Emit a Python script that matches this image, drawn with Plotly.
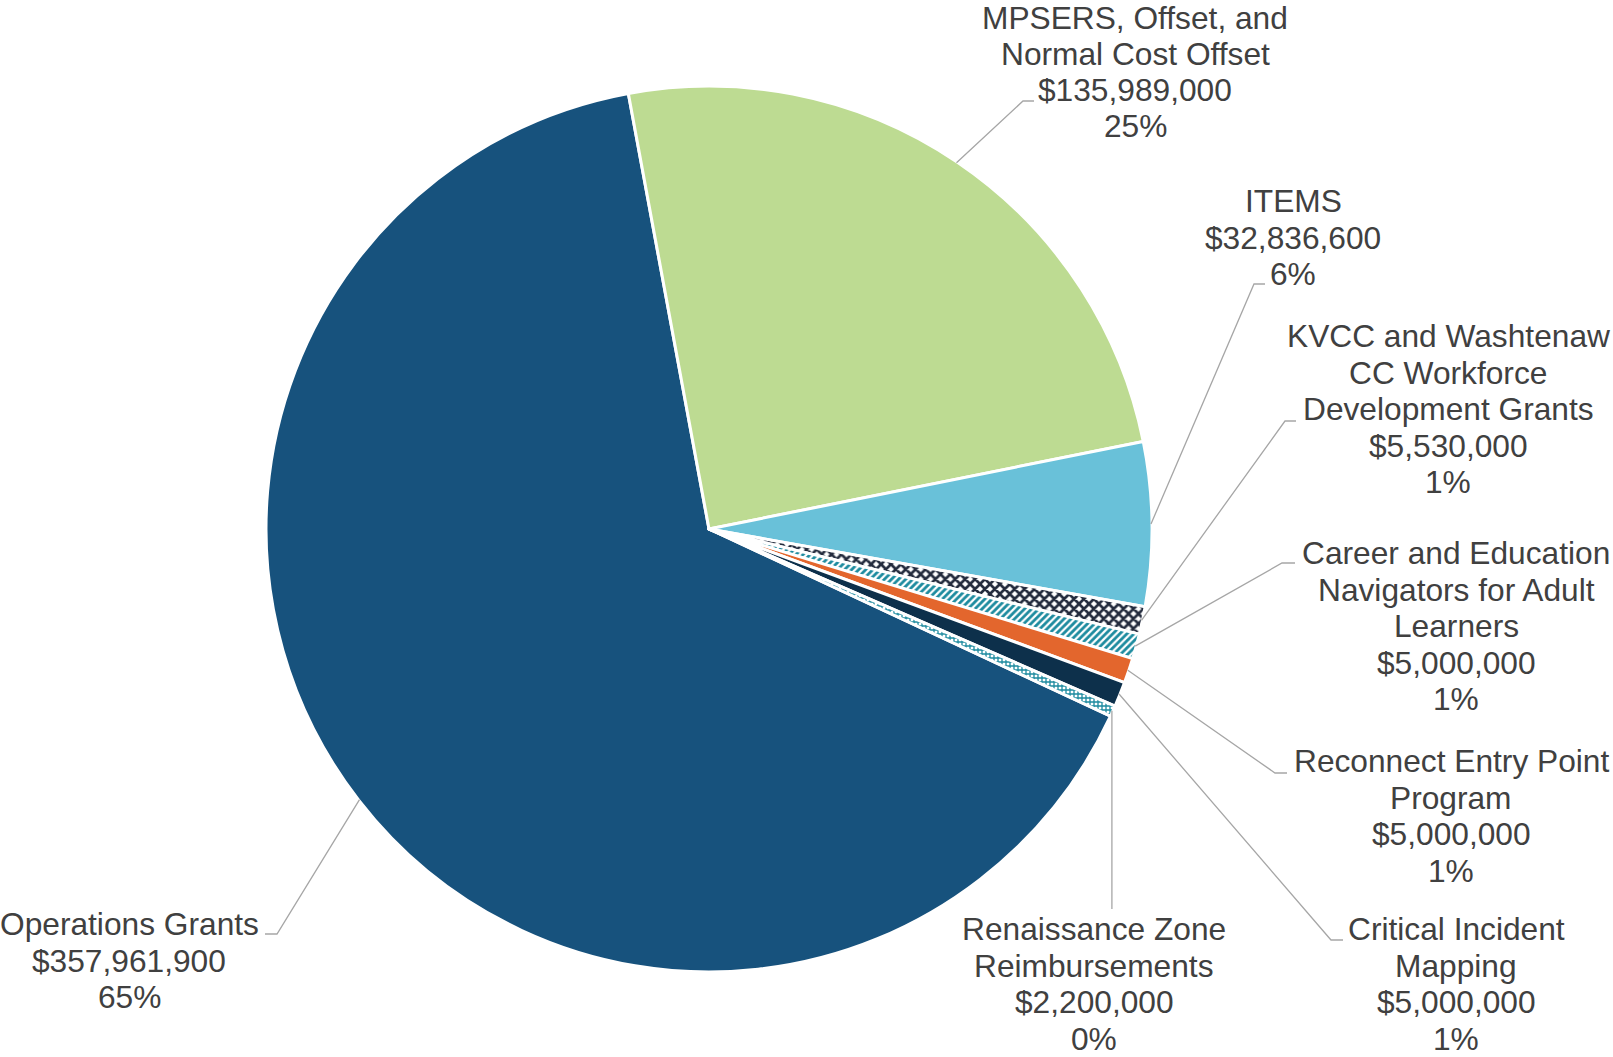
import math
import plotly.graph_objects as go

# ---------------- data ----------------
categories = [
    "Operations Grants",
    "MPSERS, Offset, and Normal Cost Offset",
    "ITEMS",
    "KVCC and Washtenaw CC Workforce Development Grants",
    "Career and Education Navigators for Adult Learners",
    "Reconnect Entry Point Program",
    "Critical Incident Mapping",
    "Renaissance Zone Reimbursements",
]
amounts = [357961900, 135989000, 32836600, 5530000, 5000000, 5000000, 5000000, 2200000]
label_wrap = [
    ["Operations Grants"],
    ["MPSERS, Offset, and", "Normal Cost Offset"],
    ["ITEMS"],
    ["KVCC and Washtenaw", "CC Workforce", "Development Grants"],
    ["Career and Education", "Navigators for Adult", "Learners"],
    ["Reconnect Entry Point", "Program"],
    ["Critical Incident", "Mapping"],
    ["Renaissance Zone", "Reimbursements"],
]

# ---------------- styles / layout ----------------
W, H = 1613, 1057
CX, CY, R = 709, 529, 443    # page pixel coords
ROT = 115.0
FONT = "Liberation Sans, Arial, sans-serif"
FS = 31.7
PITCH = 36.6
TXT = "#404040"
LEAD = "#a6a6a6"

colors = ["#17527d", "#bddb92", "#69c1d9", "#ffffff", "#ffffff", "#e3662d", "#0d304b", "#ffffff"]
pat_shape = ["", "", "", "x", "/", "", "", "+"]
pat_fg = ["#17527d", "#bddb92", "#69c1d9", "#232b3d", "#1d8b9f", "#e3662d", "#0d304b", "#1d8b9f"]
pat_bg = ["#17527d", "#bddb92", "#69c1d9", "#ffffff", "#ffffff", "#e3662d", "#0d304b", "#ffffff"]
pat_size = [8, 8, 8, 7, 5, 8, 8, 4]
pat_sol = [0.3, 0.3, 0.3, 0.62, 0.55, 0.3, 0.3, 0.55]

label_cx = [129, 1135, 1293, 1448, 1456, 1451, 1456, 1094]
label_base = [935, 29, 212, 347, 564, 772, 940, 940]
label_pitch = [PITCH, 36.0, PITCH, PITCH, PITCH, PITCH, PITCH, PITCH]
# leader line bend points (pixels); None = straight vertical drop
leader_pts = [
    [(277, 934), (265, 934)],
    [(1023, 101), (1034, 101)],
    [(1254, 284), (1265, 284)],
    [(1285, 421), (1296, 421)],
    [(1282, 563), (1295, 563)],
    [(1275, 773), (1287, 773)],
    [(1331, 940), (1343, 940)],
    None,
]
RENAI_DROP_Y = 909

px = lambda x: x / W
py = lambda y: 1 - y / H

fig = go.Figure()
fig.add_trace(go.Pie(
    labels=categories,
    values=amounts,
    sort=False,
    direction="clockwise",
    rotation=ROT,
    textinfo="none",
    hoverinfo="label+value+percent",
    showlegend=False,
    marker=dict(
        colors=colors,
        line=dict(color="#ffffff", width=3),
        pattern=dict(shape=pat_shape, fgcolor=pat_fg, bgcolor=pat_bg,
                     size=pat_size, solidity=pat_sol, fillmode="replace"),
    ),
    domain=dict(x=[px(CX - R), px(CX + R)],
                y=[py(CY + R), py(CY - R)]),
))

total = sum(amounts)
annotations = []
shapes = []
cum = 0.0
for i, v in enumerate(amounts):
    a0 = ROT + 360 * cum / total
    cum += v
    a1 = ROT + 360 * cum / total
    mid = math.radians((a0 + a1) / 2)
    sx = CX + (R - 1) * math.sin(mid)
    sy = CY - (R - 1) * math.cos(mid)
    pct = 100 * v / total
    lines = label_wrap[i] + [f"${v:,}", f"{int(pct + 0.5)}%"]
    for k, t in enumerate(lines):
        b = label_base[i] + k * label_pitch[i]
        annotations.append(dict(
            x=px(label_cx[i]), y=py(b - 11), xref="paper", yref="paper",
            text=t, showarrow=False, xanchor="center", yanchor="middle",
            font=dict(family=FONT, size=FS, color=TXT),
        ))
    pts = leader_pts[i]
    if pts is None:
        pts = [(sx, RENAI_DROP_Y)]
    path = f"M {px(sx)},{py(sy)}" + "".join(f" L {px(x)},{py(y)}" for x, y in pts)
    shapes.append(dict(type="path", xref="paper", yref="paper", path=path,
                       line=dict(color=LEAD, width=1.3)))

fig.update_layout(
    width=W, height=H,
    margin=dict(l=0, r=0, t=0, b=0),
    paper_bgcolor="#ffffff",
    plot_bgcolor="#ffffff",
    annotations=annotations,
    shapes=shapes,
)

fig.write_html(
    "out.html",
    config={"displayModeBar": False},
    post_script="document.body.style.margin='0';document.body.style.overflow='hidden';",
)
